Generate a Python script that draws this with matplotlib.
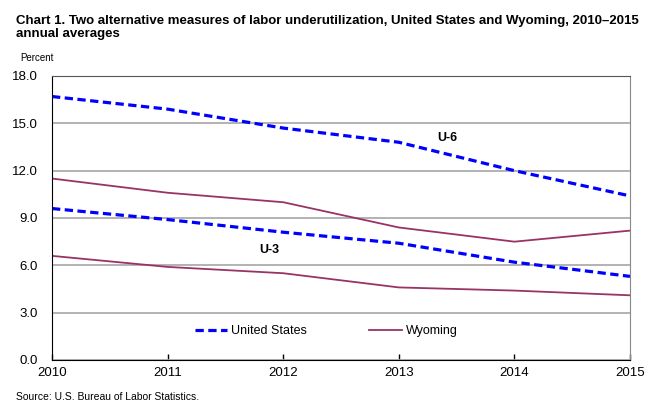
import matplotlib.pyplot as plt

plt.rcParams['font.family'] = ['Liberation Sans', 'DejaVu Sans']

# Data (percent, annual averages)
years = [2010, 2011, 2012, 2013, 2014, 2015]
us_u6 = [16.7, 15.9, 14.7, 13.8, 12.0, 10.4]
us_u3 = [9.6, 8.9, 8.1, 7.4, 6.2, 5.3]
wy_u6 = [11.5, 10.6, 10.0, 8.4, 7.5, 8.2]
wy_u3 = [6.6, 5.9, 5.5, 4.6, 4.4, 4.1]
yticks = [0, 3, 6, 9, 12, 15, 18]

blue = "#0000FF"
maroon = "#993366"

fig = plt.figure(figsize=(6.7, 4.13), dpi=100)
ax = fig.add_axes([52 / 670, 1 - 360 / 413, 578 / 670, 284 / 413])

ax.plot(years, us_u6, color=blue, lw=2.3, dashes=(2.6, 1.4), label="United States")
ax.plot(years, us_u3, color=blue, lw=2.3, dashes=(2.6, 1.4))
ax.plot(years, wy_u6, color=maroon, lw=1.3, label="Wyoming")
ax.plot(years, wy_u3, color=maroon, lw=1.3)

ax.set_xlim(2010, 2015)
ax.set_ylim(0, 18)
ax.set_xticks(years)
ax.set_yticks(yticks)
ax.set_yticklabels([f"{v:.1f}" for v in yticks])
ax.yaxis.grid(True, color="#a6a6a6", lw=1.2)
ax.set_axisbelow(True)
ax.tick_params(axis="y", length=0, pad=10, labelsize=9.5)
ax.tick_params(axis="x", direction="in", length=4, width=1, pad=5, labelsize=9.5)

ax.spines["left"].set_color("black")
ax.spines["bottom"].set_color("black")
ax.spines["top"].set_color("#555555")
ax.spines["right"].set_color("#888888")

ax.text(2013.42, 14.1, "U-6", fontsize=9, fontweight="bold", ha="center", va="center")
ax.text(2011.88, 7.0, "U-3", fontsize=9, fontweight="bold", ha="center", va="center")

ax.legend(loc="center", bbox_to_anchor=(0.474, 0.102), ncol=2, frameon=False,
          fontsize=9, handlelength=2.6, columnspacing=5, handletextpad=0.3)

fig.text(16 / 670, 1 - 15 / 413, "Chart 1. Two alternative measures of labor underutilization, "
         "United States and Wyoming, 2010\u20132015\nannual averages",
         fontsize=9.5, fontweight="bold", va="top", ha="left", linespacing=1.1)
fig.text(20 / 670, 1 - 58 / 413, "Percent", fontsize=7, va="center", ha="left")
fig.text(16 / 670, 1 - 397 / 413, "Source: U.S. Bureau of Labor Statistics.",
         fontsize=7.5, va="center", ha="left")

fig.savefig("out.png", dpi=100)
